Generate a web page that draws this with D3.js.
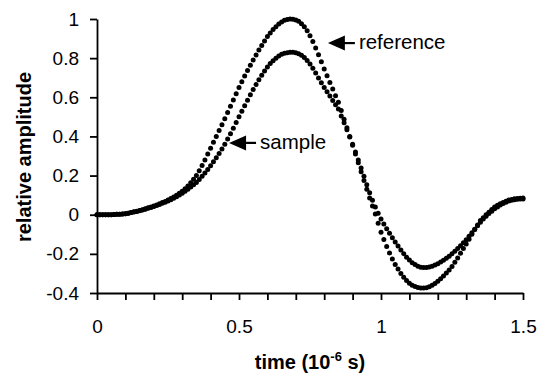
<!DOCTYPE html>
<html>
<head>
<meta charset="utf-8">
<script src="https://cdn.jsdelivr.net/npm/d3@7"></script>
<style>
  body { margin: 0; background: #fff; }
  text { font-family: "Liberation Sans", Arial, sans-serif; fill: #000; }
</style>
</head>
<body>
<div id="container"></div>
<script>
// time axis, in units of 10^-6 s
var times = d3.range(0, 151).map(function(i) { return i / 100; });

// reference curve (one value per 0.01)
var referenceValues = [
  0.000, 0.000, 0.000, 0.000, 0.000, 0.000, 0.001, 0.002, 0.003, 0.004,
  0.005, 0.008, 0.011, 0.015, 0.018, 0.022, 0.026, 0.030, 0.035, 0.040,
  0.045, 0.050, 0.056, 0.062, 0.068, 0.075, 0.083, 0.091, 0.100, 0.110,
  0.120, 0.133, 0.147, 0.163, 0.181, 0.200, 0.225, 0.252, 0.280, 0.310,
  0.340, 0.370, 0.400, 0.430, 0.460, 0.490, 0.522, 0.554, 0.586, 0.618,
  0.650, 0.680, 0.709, 0.737, 0.764, 0.790, 0.816, 0.841, 0.865, 0.888,
  0.910, 0.929, 0.946, 0.961, 0.974, 0.985, 0.993, 0.998, 1.000, 0.999,
  0.995, 0.988, 0.976, 0.960, 0.940, 0.915, 0.885, 0.852, 0.817, 0.781,
  0.745, 0.710, 0.676, 0.642, 0.608, 0.575, 0.532, 0.488, 0.444, 0.400,
  0.355, 0.310, 0.265, 0.220, 0.175, 0.130, 0.086, 0.044, 0.004, -0.044,
  -0.090, -0.127, -0.162, -0.195, -0.226, -0.255, -0.278, -0.300, -0.319, -0.336,
  -0.350, -0.360, -0.367, -0.372, -0.375, -0.375, -0.373, -0.368, -0.361, -0.352,
  -0.340, -0.327, -0.313, -0.298, -0.282, -0.265, -0.243, -0.221, -0.197, -0.173,
  -0.150, -0.125, -0.100, -0.076, -0.053, -0.030, -0.015, 0.000, 0.013, 0.027,
  0.040, 0.048, 0.056, 0.063, 0.069, 0.075, 0.078, 0.081, 0.083, 0.084,
  0.085
];

// sample curve
var sampleValues = [
  0.000, 0.000, 0.000, 0.000, 0.000, 0.000, 0.001, 0.002, 0.003, 0.004,
  0.005, 0.008, 0.011, 0.014, 0.017, 0.020, 0.024, 0.028, 0.033, 0.037,
  0.042, 0.047, 0.052, 0.058, 0.064, 0.070, 0.077, 0.084, 0.092, 0.101,
  0.110, 0.120, 0.130, 0.141, 0.153, 0.165, 0.180, 0.196, 0.213, 0.231,
  0.250, 0.270, 0.291, 0.313, 0.336, 0.360, 0.387, 0.414, 0.442, 0.471,
  0.500, 0.529, 0.557, 0.585, 0.613, 0.640, 0.665, 0.689, 0.712, 0.734,
  0.755, 0.772, 0.787, 0.800, 0.811, 0.820, 0.825, 0.828, 0.830, 0.830,
  0.828, 0.823, 0.815, 0.803, 0.788, 0.770, 0.748, 0.724, 0.699, 0.674,
  0.650, 0.628, 0.606, 0.584, 0.562, 0.540, 0.505, 0.470, 0.434, 0.397,
  0.360, 0.320, 0.280, 0.239, 0.196, 0.153, 0.112, 0.074, 0.040, 0.008,
  -0.022, -0.048, -0.072, -0.095, -0.118, -0.140, -0.160, -0.180, -0.199, -0.217,
  -0.232, -0.245, -0.255, -0.263, -0.268, -0.270, -0.270, -0.267, -0.263, -0.257,
  -0.250, -0.242, -0.233, -0.223, -0.212, -0.200, -0.187, -0.173, -0.158, -0.143,
  -0.128, -0.110, -0.092, -0.074, -0.056, -0.038, -0.022, -0.008, 0.006, 0.018,
  0.030, 0.040, 0.049, 0.057, 0.064, 0.070, 0.074, 0.077, 0.079, 0.080,
  0.080
];

var xTicks = d3.range(0, 16).map(function(i) { return i / 10; });
var xLabels = [0, 0.5, 1, 1.5];
var yTicks = [-0.4, -0.2, 0, 0.2, 0.4, 0.6, 0.8, 1];

// arrow annotations: label, tip position (time, amplitude)
var noteLabels = ["reference", "sample"];
var noteTimes = [0.813, 0.465];
var noteValues = [0.877, 0.367];

var margin = {top: 19, right: 15, bottom: 83, left: 97},
    width = 538 - margin.left - margin.right,
    height = 376 - margin.top - margin.bottom;

var svg = d3.select("#container")
  .append("svg")
    .attr("width", 538)
    .attr("height", 376)
    .attr("id", "chart")
  .append("g")
    .attr("transform", "translate(" + margin.left + "," + margin.top + ")");

var x = d3.scaleLinear().domain([0, 1.5]).range([0, width]);
var y = d3.scaleLinear().domain([-0.4, 1]).range([height, 0]);

function fmt(d) { return String(+d.toFixed(1)); }

// x axis
var gx = svg.append("g")
  .attr("transform", "translate(0," + height + ")")
  .call(d3.axisBottom(x)
    .tickValues(xTicks)
    .tickSize(7)
    .tickSizeOuter(0)
    .tickPadding(20)
    .tickFormat(function(d) {
      return xLabels.some(function(v) { return Math.abs(v - d) < 1e-6; }) ? fmt(d) : "";
    }));

// y axis
var gy = svg.append("g")
  .call(d3.axisLeft(y)
    .tickValues(yTicks)
    .tickSize(7)
    .tickSizeOuter(0)
    .tickPadding(11)
    .tickFormat(fmt));

[gx, gy].forEach(function(g) {
  g.select(".domain").attr("stroke", "#000").attr("stroke-width", 1.8);
  g.selectAll(".tick line").attr("stroke", "#000").attr("stroke-width", 1.8);
  g.selectAll(".tick text")
    .attr("font-family", "Liberation Sans, Arial, sans-serif")
    .attr("font-size", 19)
    .attr("fill", "#000");
});

// dots
var series = [referenceValues, sampleValues];
series.forEach(function(vals) {
  svg.append("g").selectAll("circle")
    .data(vals)
    .enter().append("circle")
      .attr("cx", function(d, i) { return x(times[i]); })
      .attr("cy", function(d) { return y(d); })
      .attr("r", 2.5)
      .attr("fill", "#000");
});

// arrows with labels
noteLabels.forEach(function(label, i) {
  var tx = x(noteTimes[i]), ty = y(noteValues[i]);
  svg.append("path")
    .attr("d", "M" + tx + "," + ty + "l17,-7.5l0,15z")
    .attr("fill", "#000");
  svg.append("line")
    .attr("x1", tx + 16).attr("x2", tx + 27)
    .attr("y1", ty).attr("y2", ty)
    .attr("stroke", "#000").attr("stroke-width", 2.2);
  svg.append("text")
    .attr("x", tx + 31)
    .attr("y", ty + 6)
    .attr("font-size", 20.5)
    .text(label);
});

// axis titles
svg.append("text")
  .attr("transform", "translate(" + (-66) + "," + (height / 2 + 1) + ") rotate(-90)")
  .attr("text-anchor", "middle")
  .attr("font-size", 20)
  .attr("font-weight", "bold")
  .text("relative amplitude");

var title = svg.append("text")
  .attr("x", 213)
  .attr("y", 350)
  .attr("text-anchor", "middle")
  .attr("font-size", 20)
  .attr("font-weight", "bold");
title.append("tspan").text("time (10");
title.append("tspan").attr("dy", -8).attr("font-size", 13).text("-6");
title.append("tspan").attr("dy", 8).text(" s)");
</script>
</body>
</html>
